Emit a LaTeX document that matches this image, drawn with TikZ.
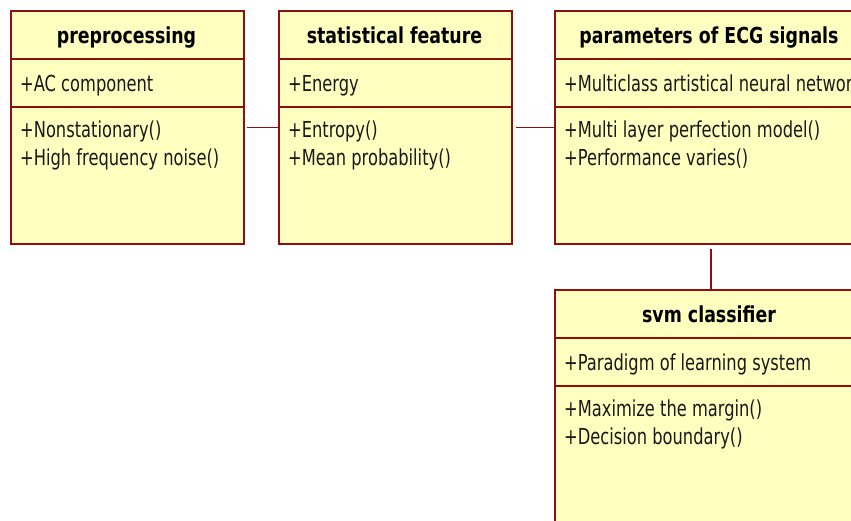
\documentclass[tikz,border=0pt]{standalone}
\usepackage{fontspec}
\setmainfont{DejaVu Sans}[FakeStretch=0.74, BoldFeatures={FakeStretch=0.79}]
\definecolor{umlred}{RGB}{140,16,16}
\definecolor{umlfill}{RGB}{255,255,192}
\begin{document}
\begin{tikzpicture}[x=1pt,y=-1pt,
  box/.style={draw=umlred, fill=umlfill, line width=1.7pt, rectangle, inner sep=0pt, anchor=north west},
  divider/.style={draw=umlred, line width=1.7pt},
  conn/.style={draw=umlred, line width=1.7pt},
  title/.style={anchor=base, inner sep=0pt, font=\fontsize{22}{26}\selectfont\bfseries},
  txt/.style={anchor=base west, inner sep=0pt, text=black!90, font=\fontsize{22}{26}\selectfont}]
\useasboundingbox (0,0) rectangle (851,520);
\clip (0,0) rectangle (851,520);
% boxes
\node[box, minimum width=233pt, minimum height=233pt] (b1) at (10,10) {};
\node[box, minimum width=233pt, minimum height=233pt] (b2) at (278,10) {};
\node[box, minimum width=312pt, minimum height=233pt] (b3) at (554,10) {};
\node[box, minimum width=312pt, minimum height=260pt] (b4) at (554,289) {};
% dividers
\draw[divider] (b1.west |- 0,59) -- (b1.east |- 0,59);
\draw[divider] (b1.west |- 0,107) -- (b1.east |- 0,107);
\draw[divider] (b2.west |- 0,59) -- (b2.east |- 0,59);
\draw[divider] (b2.west |- 0,107) -- (b2.east |- 0,107);
\draw[divider] (b3.west |- 0,59) -- (b3.east |- 0,59);
\draw[divider] (b3.west |- 0,107) -- (b3.east |- 0,107);
\draw[divider] (b4.west |- 0,338) -- (b4.east |- 0,338);
\draw[divider] (b4.west |- 0,386) -- (b4.east |- 0,386);
% texts box 1
\node[title] (t1) at (126.5,43) {preprocessing};
\node[txt] (a1) at (20,91) {+AC component};
\node[txt] (m1a) at (20,137) {+Nonstationary()};
\node[txt] (m1b) at (20,165) {+High frequency noise()};
% texts box 2
\node[title] (t2) at (394.5,43) {statistical feature};
\node[txt] (a2) at (288,91) {+Energy};
\node[txt] (m2a) at (288,137) {+Entropy()};
\node[txt] (m2b) at (288,165) {+Mean probability()};
% texts box 3
\node[title] (t3) at (709,43) {parameters of ECG signals};
\node[txt] (a3) at (564,91) {+Multiclass artistical neural network};
\node[txt] (m3a) at (564,137) {+Multi layer perfection model()};
\node[txt] (m3b) at (564,165) {+Performance varies()};
% texts box 4
\node[title] (t4) at (709,322) {svm classifier};
\node[txt] (a4) at (564,370) {+Paradigm of learning system};
\node[txt] (m4a) at (564,416) {+Maximize the margin()};
\node[txt] (m4b) at (564,444) {+Decision boundary()};
% connectors
\draw[conn, shorten <=2pt] (b1.east) -- (b2.west);
\draw[conn, shorten <=3pt] (b2.east) -- (b3.west);
\draw[conn, shorten <=4pt] (b3.south) -- (b4.north);
\end{tikzpicture}
\end{document}
